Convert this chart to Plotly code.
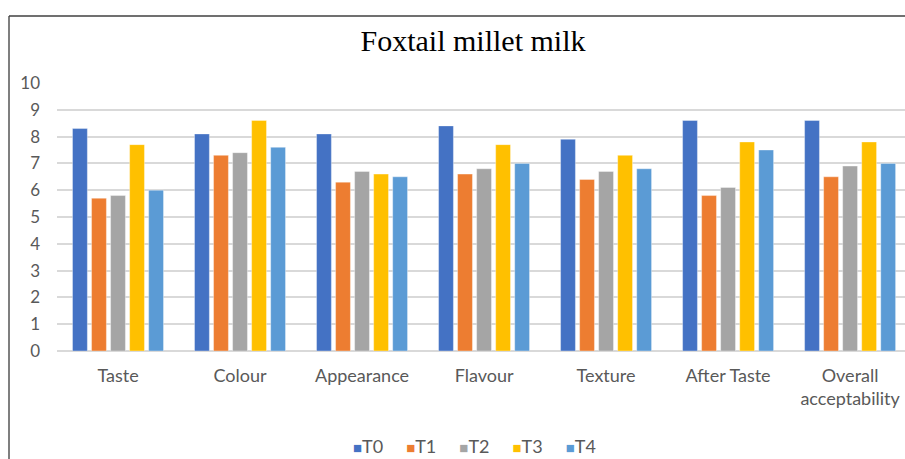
import plotly.graph_objects as go

categories = ["Taste", "Colour", "Appearance", "Flavour", "Texture", "After Taste", "Overall<br>acceptability"]
series_names = ["T0", "T1", "T2", "T3", "T4"]
T0 = [8.3, 8.1, 8.1, 8.4, 7.9, 8.6, 8.6]
T1 = [5.7, 7.3, 6.3, 6.6, 6.4, 5.8, 6.5]
T2 = [5.8, 7.4, 6.7, 6.8, 6.7, 6.1, 6.9]
T3 = [7.7, 8.6, 6.6, 7.7, 7.3, 7.8, 7.8]
T4 = [6.0, 7.6, 6.5, 7.0, 6.8, 7.5, 7.0]
y_ticks = [0, 1, 2, 3, 4, 5, 6, 7, 8, 9, 10]

colors = ["#4472C4", "#ED7D31", "#A5A5A5", "#FFC000", "#5B9BD5"]
values = [T0, T1, T2, T3, T4]

W, H = 905, 459
ML, MR, MT, MB = 57, 0, 83, 108
pw = W - ML - MR
ph = H - MT - MB

def px_x(px):
    return (px - ML) / pw

def px_y(py):
    return (H - MB - py) / ph

font_sans = "Lato, 'Liberation Sans', sans-serif"

fig = go.Figure()
for name, vals, col in zip(series_names, values, colors):
    fig.add_trace(go.Bar(
        x=categories, y=vals, name=name,
        marker=dict(color=col, line=dict(color="rgba(255,255,255,0.6)", width=0.6)),
        showlegend=False,
    ))

# legend built as a single annotation line
legend_text = "&nbsp;&nbsp;&nbsp;&nbsp;&nbsp;".join(
    f"<span style='color:{c};font-size:15px'>■</span>{n}" for n, c in zip(series_names, colors)
)
annotations = [dict(
    text=legend_text, xref="paper", yref="paper",
    x=px_x(474), y=px_y(446), xanchor="center", yanchor="middle",
    showarrow=False, font=dict(family=font_sans, size=18, color="#595959"),
)]

shapes = [
    dict(type="line", xref="paper", yref="paper",
         x0=px_x(9), x1=px_x(9), y0=px_y(16), y1=px_y(H + 2),
         line=dict(color="#7f7f7f", width=2)),
    dict(type="line", xref="paper", yref="paper",
         x0=px_x(9), x1=px_x(W + 2), y0=px_y(16), y1=px_y(16),
         line=dict(color="#404040", width=1.5)),
]

fig.update_layout(
    width=W, height=H,
    margin=dict(l=ML, r=MR, t=MT, b=MB, pad=0),
    paper_bgcolor="white", plot_bgcolor="white",
    barmode="group", bargap=0.22, bargroupgap=0.22,
    title=dict(text="Foxtail millet milk", x=473 / W, xref="container",
               y=1 - 40 / H, yref="container", xanchor="center", yanchor="middle",
               font=dict(family="'Liberation Serif', 'Times New Roman', serif", size=30, color="#000000")),
    xaxis=dict(range=[-0.5, 6.45], showgrid=False, ticks="", showline=False,
               tickfont=dict(family=font_sans, size=18, color="#595959"),
               ticklabelstandoff=12, fixedrange=True),
    yaxis=dict(range=[0, 10], tickvals=y_ticks, showgrid=True, gridcolor="#d9d9d9", gridwidth=1.5,
               zeroline=True, zerolinecolor="#d9d9d9", zerolinewidth=1.5,
               ticks="", showline=False,
               tickfont=dict(family=font_sans, size=17, color="#595959"),
               ticklabelstandoff=16, fixedrange=True),
    annotations=annotations,
    shapes=shapes,
    showlegend=False,
)

fig.write_html("out.html")
